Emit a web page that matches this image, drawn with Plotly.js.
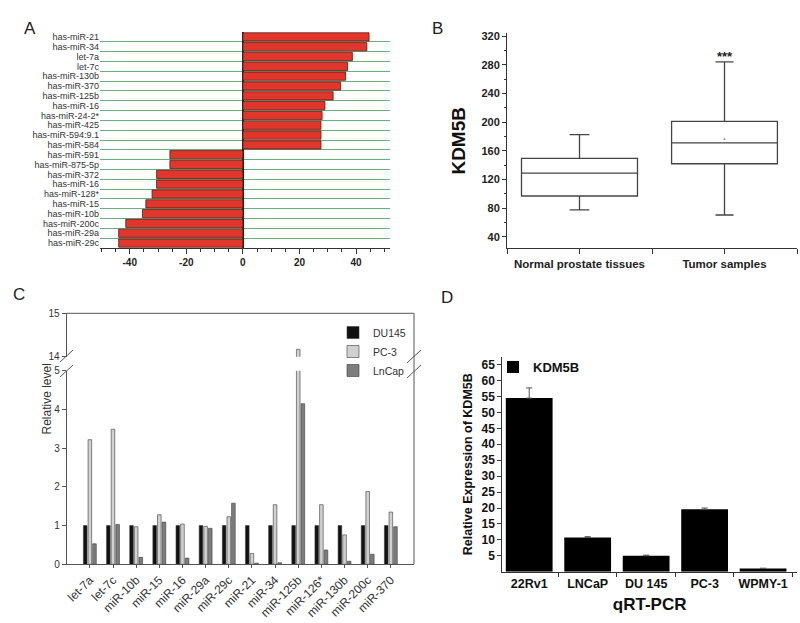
<!DOCTYPE html>
<html>
<head>
<meta charset="utf-8">
<script src="https://cdn.plot.ly/plotly-3.0.1.min.js"></script>
<style>html,body{margin:0;padding:0;background:#fff;}#chart{width:800px;height:623px;}</style>
</head>
<body>
<div id="chart"></div>
<script>
// ---------- Panel A data ----------
const aLabels = ['has-miR-21','has-miR-34','let-7a','let-7c','has-miR-130b','has-miR-370','has-miR-125b','has-miR-16','has-miR-24-2*','has-miR-425','has-miR-594:9.1','has-miR-584','has-miR-591','has-miR-875-5p','has-miR-372','has-miR-16','has-miR-128*','has-miR-15','has-miR-10b','has-miR-200c','has-miR-29a','has-miR-29c'];
const aValues = [44.6, 43.8, 38.7, 37.0, 36.3, 34.5, 31.9, 29.0, 28.0, 27.6, 27.6, 27.6, -25.8, -25.8, -30.5, -30.5, -32.1, -34.3, -35.5, -41.4, -43.9, -43.9];
const aTicks = [-40, -20, 0, 20, 40];
const aTickText = ['-40', '-20', '0', '20', '40'];

// ---------- Panel B data ----------
const bCategories = ['Normal prostate tissues', 'Tumor samples'];
const bLowerFence = [77.5, 70.5];
const bQ1 = [97, 142];
const bMedian = [129, 171];
const bQ3 = [149.5, 201];
const bUpperFence = [182.5, 284];
const bMean = [null, 176];
const bTicks = [40, 80, 120, 160, 200, 240, 280, 320];

// ---------- Panel C data ----------
const cMirnas = ['let-7a','let-7c','miR-10b','miR-15','miR-16','miR-29a','miR-29c','miR-21','miR-34','miR-125b','miR-126*','miR-130b','miR-200c','miR-370'];
const cDU145 = [1, 1, 1, 1, 1, 1, 1, 1, 1, 1, 1, 1, 1, 1];
const cPC3 = [3.22, 3.49, 0.97, 1.28, 1.04, 0.98, 1.23, 0.28, 1.54, 14.17, 1.54, 0.76, 1.88, 1.35];
const cLnCap = [0.53, 1.03, 0.18, 1.09, 0.16, 0.93, 1.58, 0.03, 0.04, 4.15, 0.37, 0.08, 0.26, 0.97];
const cLowTicks = [0, 1, 2, 3, 4, 5];
const cHighTicks = [14, 15];

// ---------- Panel D data ----------
const dLines = ['22Rv1', 'LNCaP', 'DU 145', 'PC-3', 'WPMY-1'];
const dValues = [54.5, 10.7, 5.0, 19.6, 1.0];
const dErrors = [3.2, 0.3, 0.2, 0.4, 0.1];
const dTicks = [5, 10, 15, 20, 25, 30, 35, 40, 45, 50, 55, 60, 65];

// ---------- helpers (pixel -> paper) ----------
const W = 800, H = 623;
const px = v => v / W;
const py = v => 1 - v / H;
const FONT = 'Liberation Sans, Arial, sans-serif';

const aIdx = aLabels.map((_, i) => i);
const aBounds = aLabels.slice(1).map((_, i) => i + 0.5);
const bPos = bCategories.map((_, i) => i + 1);

const traces = [];

// A
traces.push({
  type: 'bar', orientation: 'h', x: aValues, y: aIdx, width: 0.84,
  marker: {color: '#e0362c', line: {color: '#5a1a12', width: 0.8}},
  xaxis: 'x', yaxis: 'y', showlegend: false, hoverinfo: 'skip'
});

// B
const bWidths = [0.8, 0.73];
bCategories.forEach((c, i) => {
  traces.push({
    type: 'box', name: c, x: [bPos[i]], q1: [bQ1[i]], median: [bMedian[i]], q3: [bQ3[i]],
    lowerfence: [bLowerFence[i]], upperfence: [bUpperFence[i]], width: bWidths[i], whiskerwidth: 0.17,
    fillcolor: 'rgba(255,255,255,0)', line: {color: '#444', width: 1.3},
    xaxis: 'x2', yaxis: 'y2', showlegend: false, hoverinfo: 'skip', boxpoints: false
  });
});
traces.push({
  type: 'scatter', mode: 'markers', x: bPos, y: bMean, marker: {size: 2, color: '#888'},
  xaxis: 'x2', yaxis: 'y2', showlegend: false, hoverinfo: 'skip'
});

// C
const cSeries = [
  {name: 'DU145', y: cDU145, color: '#111111'},
  {name: 'PC-3', y: cPC3, color: '#d0d0d0'},
  {name: 'LnCap', y: cLnCap, color: '#7d7d7d'}
];
['y3', 'y4'].forEach((ya, k) => {
  cSeries.forEach(s => {
    traces.push({
      type: 'bar', name: s.name, x: cMirnas, y: s.y,
      marker: {color: s.color, line: {color: '#3a3a3a', width: 0.6}},
      xaxis: 'x3', yaxis: ya, showlegend: k === 0, legend: 'legend', hoverinfo: 'skip'
    });
  });
});

// D
traces.push({
  type: 'bar', name: 'KDM5B', x: dLines, y: dValues, width: 0.8,
  marker: {color: '#000'},
  error_y: {type: 'data', symmetric: false, array: dErrors, arrayminus: dErrors.map(() => 0), visible: true, color: '#555', thickness: 1, width: 3},
  xaxis: 'x4', yaxis: 'y5', legend: 'legend2', showlegend: true, hoverinfo: 'skip'
});

const axisBase = {linecolor: '#333', linewidth: 1, tickcolor: '#333', zeroline: false, showgrid: false, fixedrange: true};

const layout = {
  width: W, height: H,
  margin: {l: 0, r: 0, t: 0, b: 0},
  paper_bgcolor: '#fff', plot_bgcolor: 'rgba(0,0,0,0)',
  font: {family: FONT, color: '#222'},
  barmode: 'group', bargap: 0.4, bargroupgap: 0.22,
  // ---- A ----
  xaxis: Object.assign({}, axisBase, {
    domain: [px(100), px(390)], anchor: 'y', range: [-50.5, 52],
    showline: true, ticks: 'outside', ticklen: 5, tickvals: aTicks, ticktext: aTickText,
    minor: {dtick: 5, tick0: 0, ticks: 'outside', ticklen: 3, tickcolor: '#333'},
    zeroline: true, zerolinecolor: '#222', zerolinewidth: 1.4,
    tickfont: {size: 10, weight: 'bold', color: '#222'}
  }),
  yaxis: Object.assign({}, axisBase, {
    domain: [py(248), py(32)], anchor: 'x', range: [aLabels.length - 0.5, -0.5],
    tickmode: 'array', tickvals: aIdx, ticktext: aLabels, ticks: '', showline: false,
    minor: {tickmode: 'array', tickvals: aBounds, showgrid: true, gridcolor: '#6aae7c', gridwidth: 1, ticks: ''},
    tickfont: {size: 9, color: '#333'}
  }),
  // ---- B ----
  xaxis2: Object.assign({}, axisBase, {
    domain: [px(507), px(797)], anchor: 'y2', range: [0.5, 2.5],
    showline: true, ticks: 'outside', ticklen: 5,
    tickvals: [0.5, 1, 1.5, 2, 2.5], ticktext: ['', bCategories[0], '', bCategories[1], ''],
    tickfont: {size: 11.5, weight: 'bold', color: '#222'}
  }),
  yaxis2: Object.assign({}, axisBase, {
    domain: [py(248.3), py(33.3)], anchor: 'x2', range: [24, 324],
    showline: true, ticks: 'outside', ticklen: 4, tickvals: bTicks,
    minor: {dtick: 20, tick0: 0, ticks: 'outside', ticklen: 2.5, tickcolor: '#333'},
    tickfont: {size: 11, weight: 'bold', color: '#222'},
    title: {text: 'KDM5B', font: {size: 19, weight: 'bold', color: '#111'}, standoff: 10}
  }),
  // ---- C ----
  xaxis3: Object.assign({}, axisBase, {
    domain: [px(66.7), px(414)], anchor: 'y3', type: 'category', range: [-1, cMirnas.length],
    showline: true, linecolor: '#555', ticks: 'outside', ticklen: 3, tickcolor: '#555', tickangle: -45,
    tickfont: {size: 12, color: '#333'}
  }),
  yaxis3: Object.assign({}, axisBase, {
    domain: [py(564.3), py(370.8)], anchor: 'x3', range: [0, 5],
    showline: true, linecolor: '#555', ticks: 'outside', ticklen: 4, tickcolor: '#555', tickvals: cLowTicks,
    tickfont: {size: 10, color: '#333'}
  }),
  yaxis4: Object.assign({}, axisBase, {
    domain: [py(356.7), py(313.3)], anchor: 'x3', range: [14, 15],
    showline: true, linecolor: '#555', ticks: 'outside', ticklen: 4, tickcolor: '#555', tickvals: cHighTicks,
    tickfont: {size: 10, color: '#333'}
  }),
  // ---- D ----
  xaxis4: Object.assign({}, axisBase, {
    domain: [px(502.3), px(797)], anchor: 'y5', type: 'category', range: [-0.46, dLines.length - 0.42],
    showline: true, ticks: 'outside', ticklen: 4, tickson: 'boundaries',
    tickfont: {size: 12.5, weight: 'bold', color: '#111'},
    title: {text: 'qRT-PCR', font: {size: 17, weight: 'bold', color: '#111'}, standoff: 8}
  }),
  yaxis5: Object.assign({}, axisBase, {
    domain: [py(571.7), py(356.7)], anchor: 'x4', range: [0, 67.5],
    showline: true, ticks: 'outside', ticklen: 4, tickvals: dTicks,
    tickfont: {size: 12, weight: 'bold', color: '#111'},
    title: {text: 'Relative Expression of KDM5B', font: {size: 12.5, weight: 'bold', color: '#111'}, standoff: 6}
  }),
  legend: {
    x: px(333), y: py(318), xanchor: 'left', yanchor: 'top', bgcolor: 'rgba(0,0,0,0)',
    font: {size: 10.5, color: '#333'}, tracegroupgap: 0
  },
  legend2: {
    x: px(493), y: py(352), xanchor: 'left', yanchor: 'top', bgcolor: 'rgba(0,0,0,0)',
    font: {size: 13, weight: 'bold', color: '#111'}
  },
  shapes: [
    // C frame top and right
    {type: 'line', xref: 'paper', yref: 'paper', x0: px(66.7), x1: px(414), y0: py(313.3), y1: py(313.3), line: {color: '#555', width: 1}},
    {type: 'line', xref: 'paper', yref: 'paper', x0: px(414), x1: px(414), y0: py(313.3), y1: py(564.3), line: {color: '#555', width: 1}},
    // C axis break marks
    {type: 'line', xref: 'paper', yref: 'paper', x0: px(60), x1: px(73), y0: py(362), y1: py(350), line: {color: '#555', width: 1}},
    {type: 'line', xref: 'paper', yref: 'paper', x0: px(60), x1: px(73), y0: py(377), y1: py(365), line: {color: '#555', width: 1}},
    {type: 'line', xref: 'paper', yref: 'paper', x0: px(407), x1: px(421), y0: py(363), y1: py(350), line: {color: '#555', width: 1}},
    {type: 'line', xref: 'paper', yref: 'paper', x0: px(407), x1: px(421), y0: py(378), y1: py(365), line: {color: '#555', width: 1}}
  ],
  annotations: [
    {text: 'A', x: px(22), y: py(17), xref: 'paper', yref: 'paper', showarrow: false, font: {size: 17, color: '#222'}},
    {text: 'B', x: px(437), y: py(17), xref: 'paper', yref: 'paper', showarrow: false, font: {size: 17, color: '#222'}},
    {text: 'C', x: px(11), y: py(295), xref: 'paper', yref: 'paper', showarrow: false, font: {size: 17, color: '#222'}},
    {text: 'D', x: px(447), y: py(297), xref: 'paper', yref: 'paper', showarrow: false, font: {size: 17, color: '#222'}},
    {text: '***', x: bPos[1], y: 292, xref: 'x2', yref: 'y2', showarrow: false, font: {size: 13, weight: 'bold', color: '#222'}},
    {text: 'Relative level', x: px(37), y: py(437), xref: 'paper', yref: 'paper', showarrow: false, textangle: -90, font: {size: 12, color: '#333'}}
  ]
};

Plotly.newPlot('chart', traces, layout, {staticPlot: true, displayModeBar: false});
</script>
</body>
</html>
